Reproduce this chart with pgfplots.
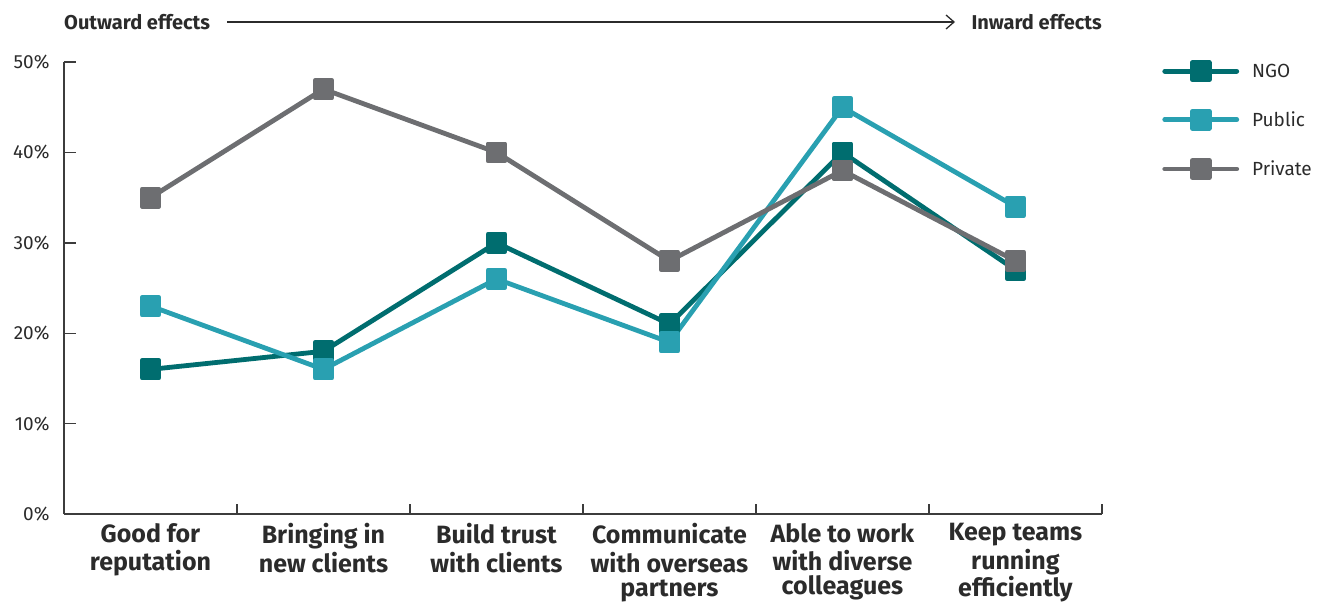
\documentclass[border=0pt]{standalone}
\usepackage{pgfplots}
\pgfplotsset{compat=1.18}
\usepackage{fontspec}
\setmainfont{Fira Sans}
\usetikzlibrary{arrows.meta}

\definecolor{ngo}{HTML}{006D6F}
\definecolor{public}{HTML}{29A0B1}
\definecolor{private}{HTML}{6D6E71}
\definecolor{axisgray}{HTML}{3C3C3C}
\definecolor{textgray}{HTML}{2B2B2B}

\begin{document}
\begin{tikzpicture}
\begin{axis}[
  at={(0pt,0pt)}, anchor=south west,
  scale only axis,
  width=1038pt, height=452pt,
  xmin=-0.5, xmax=5.5,
  ymin=0, ymax=50,
  axis x line*=bottom,
  axis y line*=left,
  axis line style={axisgray, line width=1.4pt},
  every tick/.style={axisgray, line width=1.4pt},
  tick align=inside,
  xtick={0,...,5},
  major x tick style={draw=none},
  xticklabels={\strut Good for\\reputation,
               \strut Bringing in\\new clients,
               \strut Build trust\\with clients,
               \strut Communicate\\with overseas\\partners,
               \strut Able to work\\with diverse\\colleagues,
               \strut Keep teams\\running\\efficiently},
  x tick label style={font=\fontsize{25}{24}\selectfont\bfseries, text=textgray,
                      align=center, yshift=-6pt},
  minor xtick={0.5,1.5,...,5.5},
  minor tick length=10pt,
  ytick={0,10,...,50},
  yticklabels={0\%,10\%,20\%,30\%,40\%,50\%},
  major tick length=12pt,
  y tick label style={font=\fontsize{19}{19}\selectfont, text=textgray, xshift=-11pt},
  clip=false,
  legend style={at={(1.058,1.001)}, anchor=north west, draw=none, fill=none,
                font=\fontsize{19}{19}\selectfont, text=textgray,
                row sep=29pt, inner sep=0pt},
  legend cell align=left,
  legend image code/.code={%
    \draw[#1, line cap=round, mark repeat=2, mark phase=2]
      plot coordinates {(0pt,0pt) (36pt,0pt) (72pt,0pt)};
  },
  every axis plot/.append style={line width=4.8pt, mark=square*,
                                 mark size=8.5pt, line join=round,
                                 mark options={solid, line width=0pt, line join=miter}},
]
\addplot[color=ngo, mark options={fill=ngo, draw=ngo}] coordinates {
  (0,16) (1,18) (2,30) (3,21) (4,40) (5,27)};
\addlegendentry{\hspace{11pt}NGO}
\addplot[color=public, mark options={fill=public, draw=public}] coordinates {
  (0,23) (1,16) (2,26) (3,19) (4,45) (5,34)};
\addlegendentry{\hspace{11pt}Public}
\addplot[color=private, mark options={fill=private, draw=private}] coordinates {
  (0,35) (1,47) (2,40) (3,28) (4,38) (5,28)};
\addlegendentry{\hspace{11pt}Private}
\end{axis}

% direction of effects across the categories
\node[anchor=west, inner sep=0pt, font=\fontsize{20}{20}\selectfont\bfseries, text=textgray]
  at (0pt,492pt) {Outward effects};
\draw[textgray, line width=1.3pt, -{Straight Barb[length=8pt, width=14pt, line width=1.3pt]}]
  (163pt,492pt) -- (891pt,492pt);
\node[anchor=east, inner sep=0pt, font=\fontsize{20}{20}\selectfont\bfseries, text=textgray]
  at (1038pt,492pt) {Inward effects};

\path[use as bounding box] (-64pt,-84pt) rectangle (1253pt,514pt);
\end{tikzpicture}
\end{document}
